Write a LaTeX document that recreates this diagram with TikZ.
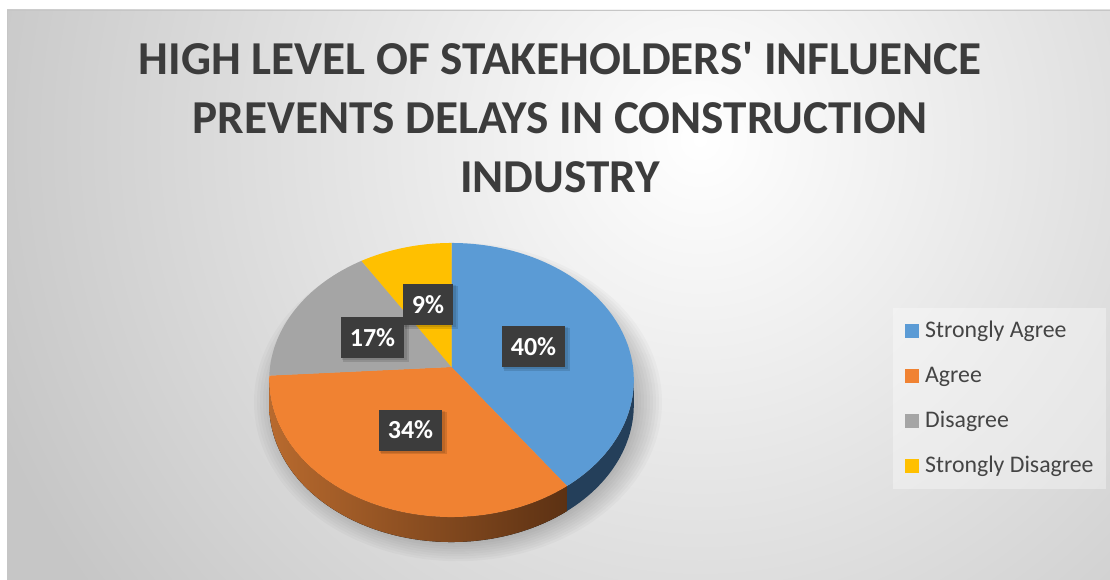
\documentclass[tikz,border=0pt]{standalone}
\usepackage{fontspec}
\setmainfont{Carlito}[Ligatures=TeXOff]
\usetikzlibrary{calc}
\definecolor{cblue}{HTML}{5B9BD5}
\definecolor{corange}{HTML}{F08232}
\definecolor{cgray}{HTML}{A5A5A5}
\definecolor{cyellow}{HTML}{FFC000}
\definecolor{cbluewall}{HTML}{243F5A}
\definecolor{owallL}{HTML}{B86A2E}
\definecolor{owallM}{HTML}{643616}
\definecolor{owallR}{HTML}{5C3113}
\definecolor{txtdark}{HTML}{3C3C3C}
\definecolor{legtxt}{HTML}{444444}
\definecolor{bgedge}{HTML}{C6C6C6}
\newcommand\PX[1]{451.5+181.5*cos(#1)/(1+0.0949*sin(#1))}
\newcommand\PY[1]{367-135.8*sin(#1)/(1+0.0949*sin(#1))}
\newcommand\PYB[1]{392-135.8*sin(#1)/(1+0.0949*sin(#1))}
\tikzset{
  lab/.style={fill=txtdark, text=white, font=\fontsize{26}{28}\selectfont\bfseries,
    minimum height=41pt, inner xsep=8.5pt, inner ysep=0pt},
  labshadow/.style={fill=black, opacity=0.12},
  legsq/.style={fill=#1, minimum width=13.5pt, minimum height=13.5pt, inner sep=0pt, anchor=south west},
  legtext/.style={text=legtxt, font=\fontsize{23.8}{25}\selectfont, anchor=base west, inner sep=0pt},
}
\begin{document}
\begin{tikzpicture}[x=1pt,y=-1pt]
\useasboundingbox (0,0) rectangle (1110,580);
\fill[white] (0,0) rectangle (1110,580);
% chart area background
\begin{scope}
  \clip (7,10) rectangle (1110,580);
  \fill[bgedge] (7,10) rectangle (1110,580);
  \shade[inner color=white, outer color=bgedge] (700,140) circle (760);
\end{scope}
\draw[gray!45, line width=0.8pt] (7,580) -- (7,10) -- (1110,10);
% title
\node[text=txtdark, font=\fontsize{47.2}{59}\selectfont\bfseries, align=center, anchor=base]
  (title) at (560,193) {HIGH LEVEL OF STAKEHOLDERS' INFLUENCE\\PREVENTS DELAYS IN CONSTRUCTION\\INDUSTRY};
% pie shadow
\foreach \k in {0,3,...,24}{
  \fill[black, opacity=0.025] (458,402) ellipse ({180+\k} and {140+\k*0.8});
}
% walls
\fill[left color=owallL, middle color=owallM, right color=owallR]
  plot[domain=-174.55:-54, samples=60] ({\PX{\x}},{\PY{\x}}) --
  plot[domain=-54:-174.55, samples=60] ({\PX{\x}},{\PYB{\x}}) -- cycle;
\fill[cbluewall]
  plot[domain=-54:-5.45, samples=30] ({\PX{\x}},{\PY{\x}}) --
  plot[domain=-5.45:-54, samples=30] ({\PX{\x}},{\PYB{\x}}) -- cycle;
% top faces
\coordinate (c) at (451.5,367);
\fill[cblue] (c) -- plot[domain=90:-54, samples=80] ({\PX{\x}},{\PY{\x}}) -- cycle;
\fill[corange] (c) -- plot[domain=-54:-176.4, samples=80] ({\PX{\x}},{\PY{\x}}) -- cycle;
\fill[cgray] (c) -- plot[domain=-176.4:-237.6, samples=40] ({\PX{\x}},{\PY{\x}}) -- cycle;
\fill[cyellow] (c) -- plot[domain=122.4:90, samples=20] ({\PX{\x}},{\PY{\x}}) -- cycle;
% data labels with shadows
\foreach \p/\w in {{533.5,346.5}/63,{410.5,430}/63,{372.5,337.5}/63,{428,304.5}/50}{
  \fill[labshadow] ($(\p)+(-\w/2+2,-18.5)$) rectangle ($(\p)+(\w/2+5,24)$);
  \fill[black, opacity=0.1] ($(\p)+(-\w/2+1,-19.5)$) rectangle ($(\p)+(\w/2+3,22.5)$);
}
\node[lab] (l40) at (533.5,346.5) {40\%};
\node[lab] (l34) at (410.5,430) {34\%};
\node[lab] (l17) at (372.5,337.5) {17\%};
\node[lab] (l9) at (428,304.5) {9\%};
% legend
\fill[white, opacity=0.35] (893,308) rectangle (1106,489);
\node[legsq=cblue] (s1) at (905,337.7) {};
\node[legsq=corange] (s2) at (905,382.7) {};
\node[legsq=cgray] (s3) at (905,427.7) {};
\node[legsq=cyellow] (s4) at (905,472.7) {};
\node[legtext] (t1) at (925,337.7) {Strongly Agree};
\node[legtext] (t2) at (925,382.7) {Agree};
\node[legtext] (t3) at (925,427.7) {Disagree};
\node[legtext] (t4) at (925,472.7) {Strongly Disagree};
\end{tikzpicture}
\end{document}
